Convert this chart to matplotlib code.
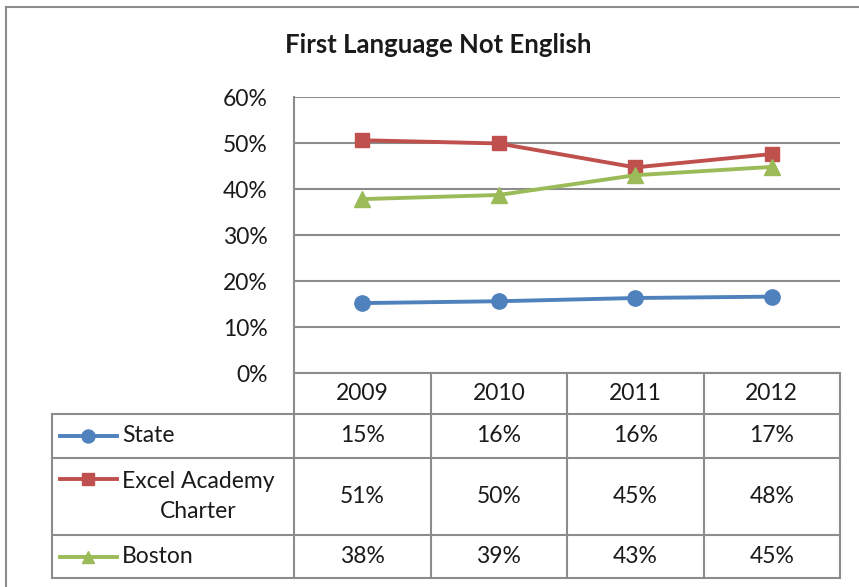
import numpy as np
import matplotlib.pyplot as plt
from matplotlib.lines import Line2D

plt.rcParams['font.family'] = ['Lato', 'DejaVu Sans']

years = ["2009", "2010", "2011", "2012"]
series = ["State", "Excel Academy\nCharter", "Boston"]
state = [15.2, 15.6, 16.3, 16.6]
excel = [50.6, 49.9, 44.7, 47.6]
boston = [37.8, 38.7, 43.0, 44.8]
values = [state, excel, boston]
colors = ["#4F81BD", "#C0504D", "#9BBB59"]
markers = ["o", "s", "^"]
msizes = [11, 10, 11]

W, H = 859, 587
grid_c = "#8c8c8c"
txt_c = "#1a1a1a"
fs = 16.5

fig = plt.figure(figsize=(W / 100, H / 100), dpi=100)

def box(x0, y0, x1, y1):
    # pixel box (top-left origin) -> figure fraction rect
    return [x0 / W, 1 - y1 / H, (x1 - x0) / W, (y1 - y0) / H]

# outer chart border
fig.add_artist(Line2D([6 / W, 6 / W], [0, 1 - 7 / H], color=grid_c, lw=1.5))
fig.add_artist(Line2D([6 / W, 1], [1 - 7 / H, 1 - 7 / H], color=grid_c, lw=1.5))

fig.text(438 / W, 1 - 45 / H, "First Language Not English", ha="center", va="center",
         fontsize=18.5, fontweight="bold", color=txt_c)

# plot area
ax = fig.add_axes(box(294, 97, 840, 373))
x = np.arange(len(years))
for vals, c, m, ms in zip(values, colors, markers, msizes):
    ax.plot(x, vals, color=c, lw=2.8, marker=m, markersize=ms, zorder=3)
ax.set_xlim(-0.5, 3.5)
ax.set_ylim(0, 60)
ax.set_yticks(range(0, 61, 10))
ax.set_yticklabels([f"{v}%" for v in range(0, 61, 10)], fontsize=fs, color=txt_c)
ax.set_xticks([])
ax.tick_params(axis="y", length=0, pad=19)
ax.yaxis.grid(True, color=grid_c, lw=1.5)
ax.set_axisbelow(True)
for s in ["top", "right", "bottom"]:
    ax.spines[s].set_visible(False)
ax.spines["left"].set_color(grid_c)
ax.spines["left"].set_linewidth(1.5)

# data table
col_w = (840 - 294) / 4
lab_w = (294 - 52) / col_w
rows = [0, 41, 85, 162, 205]
tax = fig.add_axes(box(52, 373, 840, 578))
tax.set_xlim(-0.5 - lab_w, 3.5)
tax.set_ylim(rows[-1], 0)
tax.axis("off")
lkw = dict(color=grid_c, lw=1.5, clip_on=False)
tax.plot([-0.5, 3.5], [rows[0], rows[0]], **lkw)
for r in rows[1:]:
    tax.plot([-0.5 - lab_w, 3.5], [r, r], **lkw)
tax.plot([-0.5 - lab_w, -0.5 - lab_w], [rows[1], rows[-1]], **lkw)
for xv in np.arange(-0.5, 3.6, 1.0):
    tax.plot([xv, xv], [rows[0], rows[-1]], **lkw)

for i, yr in enumerate(years):
    tax.text(i, (rows[0] + rows[1]) / 2, yr, ha="center", va="center",
             fontsize=fs, color=txt_c)

px = 1 / col_w
x_left = -0.5 - lab_w
for j, (name, vals, c, m, ms) in enumerate(zip(series, values, colors, markers, msizes)):
    yc = (rows[j + 1] + rows[j + 2]) / 2
    for i, v in enumerate(vals):
        tax.text(i, yc, f"{v:.0f}%", ha="center", va="center", fontsize=fs, color=txt_c)
    ykey = rows[j + 1] + 21 if "\n" in name else yc
    tax.plot([x_left + 8 * px, x_left + 65 * px], [ykey, ykey], color=c, lw=2.8, clip_on=False)
    tax.plot([x_left + 36 * px], [ykey], color=c, marker=m, markersize=ms * 0.85, clip_on=False)
    tax.text(x_left + 70 * px, yc, name, ha="left", va="center",
             multialignment="center", fontsize=fs, color=txt_c, linespacing=1.55)

fig.savefig("out.png", dpi=100)
